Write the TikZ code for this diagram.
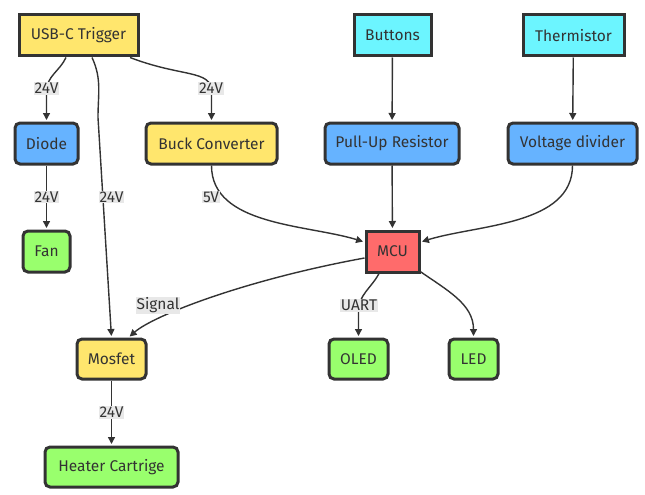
\documentclass[tikz,border=0pt]{standalone}
\usepackage{fontspec}
\setmainfont{Fira Sans}
\usetikzlibrary{arrows.meta}
\definecolor{ink}{HTML}{333333}
\definecolor{cyel}{HTML}{FFE66D}
\definecolor{cblu}{HTML}{66B3FF}
\definecolor{ccya}{HTML}{6CF5FF}
\definecolor{cgrn}{HTML}{99FF6D}
\definecolor{cred}{HTML}{FF6B6B}
\definecolor{lblbg}{HTML}{E8E8E8}
\tikzset{
  box/.style={draw=ink,line width=3pt,minimum height=41pt,inner sep=0pt,text=ink,font=\fontsize{15.5}{17}\selectfont},
  rbox/.style={box,rounded corners=5pt},
  arr/.style={draw=ink,line width=1.4pt,shorten >=1.5pt,-{Triangle[length=7pt,width=7pt]}},
  lbl/.style={fill=lblbg,text=ink,inner sep=1pt,font=\fontsize{15.5}{17}\selectfont}
}
\begin{document}
\begin{tikzpicture}[x=1pt,y=1pt]
\useasboundingbox (0,0) rectangle (645,-495);
% nodes
\node[box,fill=cyel,minimum width=119pt] (usb) at (78.5,-35.5) {USB-C Trigger};
\node[box,fill=ccya,minimum width=77pt] (btn) at (392.5,-35.5) {Buttons};
\node[box,fill=ccya,minimum width=101pt] (therm) at (573.5,-35.5) {Thermistor};
\node[rbox,fill=cblu,minimum width=63pt] (diode) at (46.5,-143.5) {Diode};
\node[rbox,fill=cyel,minimum width=131pt] (buck) at (211.5,-143.5) {Buck Converter};
\node[rbox,fill=cblu,minimum width=134pt] (pull) at (392,-143.5) {Pull-Up Resistor};
\node[rbox,fill=cblu,minimum width=129pt] (vdiv) at (572.5,-143.5) {Voltage divider};
\node[rbox,fill=cgrn,minimum width=47pt] (fan) at (46.5,-251.5) {Fan};
\node[box,fill=cred,minimum width=53pt] (mcu) at (392.5,-251.5) {MCU};
\node[rbox,fill=cyel,minimum width=69pt,minimum height=40pt] (mos) at (111.5,-359) {Mosfet};
\node[rbox,fill=cgrn,minimum width=59pt,minimum height=40pt] (oled) at (358.5,-359) {OLED};
\node[rbox,fill=cgrn,minimum width=49pt,minimum height=40pt] (led) at (473.5,-359) {LED};
\node[rbox,fill=cgrn,minimum width=133pt,minimum height=40pt] (heat) at (111.5,-467) {Heater Cartrige};
% edges
\draw[arr] ([xshift=-12.5pt]usb.south) to[out=-115,in=90] ([yshift=30pt]diode.north) -- (diode.north);
\draw[arr] ([xshift=13.5pt]usb.south) to[out=-65,in=90] ([xshift=19.5pt,yshift=-60pt]usb.south) -- (mos.north);
\draw[arr] ([xshift=51.5pt]usb.south) .. controls +(52,-20) and +(0,22) .. ([yshift=30pt]buck.north) -- (buck.north);
\draw[arr] (diode) -- (fan);
\draw[arr] (btn) -- (pull);
\draw[arr] (therm) -- (vdiv);
\draw[arr] (pull) -- (mcu);
\draw[arr] (buck.south) to[out=-90,in=163,looseness=0.9] ([yshift=9.5pt]mcu.west);
\draw[arr] (vdiv.south) to[out=-90,in=17,looseness=0.9] ([yshift=9.5pt]mcu.east);
\draw[arr] ([yshift=-6.5pt]mcu.west) .. controls +(-120,-22) and +(25,22) .. ([xshift=17pt]mos.north);
\draw[arr] ([xshift=-13.5pt]mcu.south) to[out=-118,in=90] ([yshift=26pt]oled.north) -- (oled.north);
\draw[arr] ([xshift=27pt,yshift=2.5pt]mcu.south) to[out=-35,in=90] (led.north);
\draw[arr] (mos) -- (heat);
% labels
\node[lbl] (l1) at (46.5,-88.5) {24V};
\node[lbl] (l2) at (211,-88.5) {24V};
\node[lbl] (l3) at (46.5,-197) {24V};
\node[lbl] (l4) at (111.5,-197) {24V};
\node[lbl] (l5) at (211,-197) {5V};
\node[lbl] (l6) at (158,-305.5) {Signal};
\node[lbl] (l7) at (359,-305.5) {UART};
\node[lbl] (l8) at (111.5,-412.5) {24V};
\end{tikzpicture}
\end{document}
